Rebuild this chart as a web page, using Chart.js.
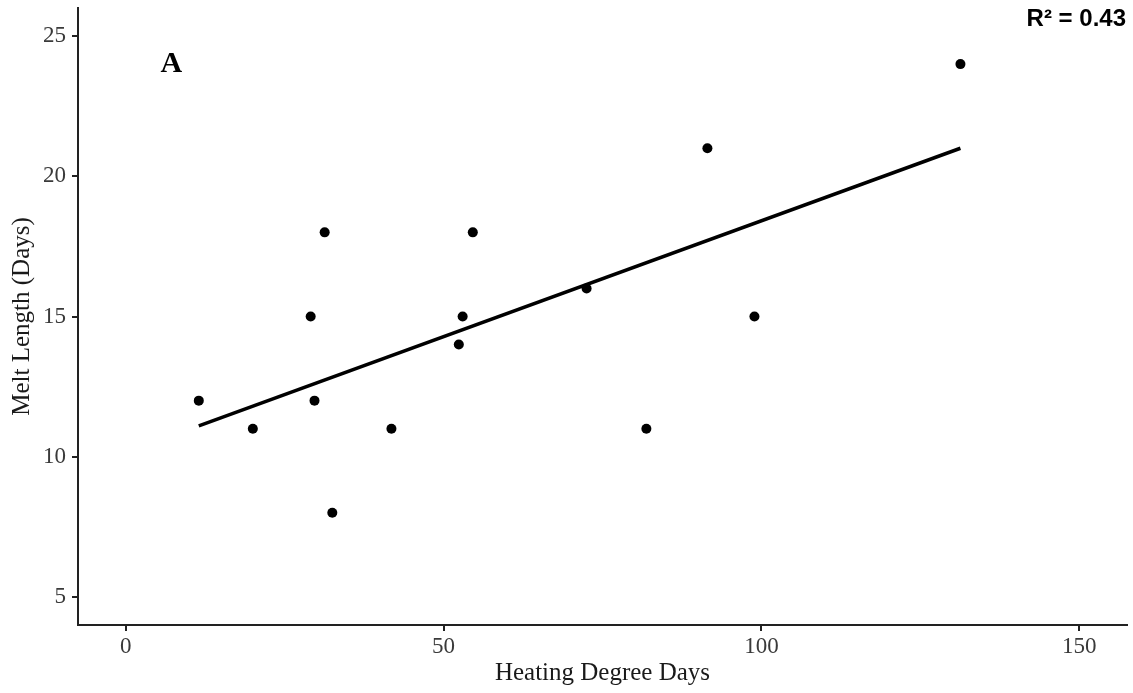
<!DOCTYPE html>
<html>
<head>
<meta charset="utf-8">
<script src="https://cdn.jsdelivr.net/npm/chart.js@4"></script>
<style>
  html, body { margin: 0; padding: 0; background: #fff; }
  #wrap { width: 1133px; height: 693px; }
</style>
</head>
<body>
<div id="wrap"><canvas id="chartJS" width="1133" height="693"></canvas></div>
<script>
// heating degree days vs melt length
const hdd = [11.5, 20.0, 29.1, 29.7, 31.3, 32.5, 41.8, 52.4, 53.0, 54.6, 72.5, 81.9, 91.5, 98.9, 131.3];
const meltDays = [12, 11, 15, 12, 18, 8, 11, 14, 15, 18, 16, 11, 21, 15, 24];
const xTicks = [0, 50, 100, 150];
const yTicks = [5, 10, 15, 20, 25];

// least squares fit
const n = hdd.length;
const mx = hdd.reduce((a, b) => a + b, 0) / n;
const my = meltDays.reduce((a, b) => a + b, 0) / n;
let sxy = 0, sxx = 0, syy = 0;
for (let i = 0; i < n; i++) {
  sxy += (hdd[i] - mx) * (meltDays[i] - my);
  sxx += (hdd[i] - mx) ** 2;
  syy += (meltDays[i] - my) ** 2;
}
const slope = sxy / sxx;
const icpt = my - slope * mx;
const r2 = (sxy * sxy) / (sxx * syy);
const xLo = Math.min(...hdd), xHi = Math.max(...hdd);

const points = hdd.map((x, i) => ({ x: x, y: meltDays[i] }));
const fit = [{ x: xLo, y: icpt + slope * xLo }, { x: xHi, y: icpt + slope * xHi }];

const labels = {
  id: 'labels',
  afterDraw(chart) {
    const ctx = chart.ctx;
    const xs = chart.scales.x, ys = chart.scales.y;
    ctx.save();
    ctx.fillStyle = '#000';
    ctx.textBaseline = 'middle';
    ctx.font = 'bold 30px "Liberation Serif"';
    ctx.textAlign = 'center';
    ctx.fillText('A', xs.getPixelForValue(7.2), ys.getPixelForValue(24));
    ctx.font = 'bold 24px "Liberation Sans"';
    ctx.textAlign = 'right';
    ctx.fillText('R\u00b2 = ' + r2.toFixed(2), chart.chartArea.right - 1, 19);
    ctx.restore();
  }
};

const axisGrid = { display: true, drawOnChartArea: false, drawTicks: true, tickLength: 6, color: '#222', lineWidth: 2 };
const axisBorder = { display: true, color: '#222', width: 2 };

new Chart(document.getElementById('chartJS'), {
  type: 'scatter',
  data: {
    datasets: [
      {
        label: 'Melt length',
        data: points,
        backgroundColor: '#000',
        borderColor: '#000',
        pointRadius: 5,
        pointBorderWidth: 0
      },
      {
        type: 'line',
        label: 'Fit',
        data: fit,
        borderColor: '#000',
        borderWidth: 3.5,
        pointRadius: 0,
        fill: false
      }
    ]
  },
  options: {
    responsive: false,
    animation: false,
    layout: { padding: { top: 8, right: 6, left: 0, bottom: 0 } },
    plugins: { legend: { display: false }, tooltip: { enabled: false } },
    scales: {
      x: {
        type: 'linear',
        min: -7.5,
        max: 157.5,
        grid: axisGrid,
        border: axisBorder,
        afterBuildTicks: s => { s.ticks = xTicks.map(v => ({ value: v })); },
        afterFit: s => { s.height = 68; s.paddingLeft = 0; s.paddingRight = 0; },
        ticks: { color: '#3a3a3a', padding: 2, font: { family: 'Liberation Serif', size: 23 } },
        title: {
          display: true,
          text: 'Heating Degree Days',
          color: '#1a1a1a',
          font: { family: 'Liberation Serif', size: 25 },
          padding: { top: 0, bottom: 5 }
        }
      },
      y: {
        type: 'linear',
        min: 4,
        max: 26,
        grid: axisGrid,
        border: axisBorder,
        afterBuildTicks: s => { s.ticks = yTicks.map(v => ({ value: v })); },
        afterFit: s => { s.width = 78; s.paddingTop = 0; s.paddingBottom = 0; },
        ticks: { color: '#3a3a3a', padding: 6, font: { family: 'Liberation Serif', size: 23 } },
        title: {
          display: true,
          text: 'Melt Length (Days)',
          color: '#1a1a1a',
          font: { family: 'Liberation Serif', size: 25 },
          padding: { top: 7, bottom: 0 }
        }
      }
    }
  },
  plugins: [labels]
});
</script>
</body>
</html>
